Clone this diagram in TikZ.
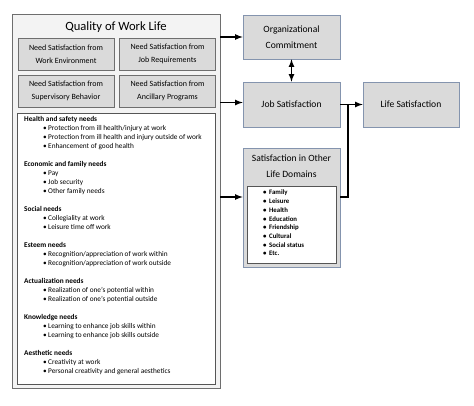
\documentclass[tikz,border=0pt]{standalone}
\usepackage{fontspec}
\setmainfont{Carlito}
\usetikzlibrary{calc}

\definecolor{qwlfill}{RGB}{243,243,243}
\definecolor{boxfill}{RGB}{218,218,218}
\definecolor{boxline}{RGB}{110,110,110}
\definecolor{blueline}{RGB}{132,148,174}
\definecolor{listline}{RGB}{85,85,85}

\newcommand{\needitem}[1]{\hspace*{19pt}\makebox[5pt][l]{\textbullet}#1}
\newcommand{\domitem}[1]{\makebox[6pt][l]{\textbullet}#1}

\tikzset{
  subbox/.style={draw=boxline, fill=boxfill, line width=0.6pt, inner sep=0pt, align=center,
    minimum width=96pt, minimum height=32pt, font=\fontsize{8}{12.5}\selectfont},
  rightbox/.style={draw=blueline, fill=boxfill, line width=0.6pt, inner sep=0pt, align=center,
    minimum width=97pt, minimum height=45pt, font=\fontsize{9.6}{16}\selectfont},
  link/.style={line width=1.6pt, >=latex}
}

\begin{document}
\begin{tikzpicture}[x=1pt,y=-1pt]
  \useasboundingbox (0,0) rectangle (474,405);

  % quality of work life
  \node[draw=boxline, fill=qwlfill, line width=0.7pt, minimum width=208pt, minimum height=374pt] (qwl) at (116,201) {};
  \node[font=\fontsize{12.6}{14}\selectfont] (qwltitle) at (116,27) {Quality of Work Life};

  \node[subbox] (env) at (66,54) {Need Satisfaction from\\Work Environment};
  \node[subbox] (jobreq) at (167.5,54) {Need Satisfaction from\\Job Requirements};
  \node[subbox] (superv) at (66,91) {Need Satisfaction from\\Supervisory Behavior};
  \node[subbox] (ancil) at (167.5,91) {Need Satisfaction from\\Ancillary Programs};

  \node[draw=listline, fill=white, line width=0.7pt, minimum width=198pt, minimum height=271pt] (needbox) at (116,248.5) {};
  \node[anchor=north west, align=left, inner sep=0pt, font=\fontsize{7.3}{9}\selectfont] (needs) at (24,116.5) {%
    \textbf{Health and safety needs}\\
    \needitem{Protection from ill health/injury at work}\\
    \needitem{Protection from ill health and injury outside of work}\\
    \needitem{Enhancement of good health}\\[9pt]
    \textbf{Economic and family needs}\\
    \needitem{Pay}\\
    \needitem{Job security}\\
    \needitem{Other family needs}\\[9pt]
    \textbf{Social needs}\\
    \needitem{Collegiality at work}\\
    \needitem{Leisure time off work}\\[9pt]
    \textbf{Esteem needs}\\
    \needitem{Recognition/appreciation of work within}\\
    \needitem{Recognition/appreciation of work outside}\\[9pt]
    \textbf{Actualization needs}\\
    \needitem{Realization of one's potential within}\\
    \needitem{Realization of one's potential outside}\\[9pt]
    \textbf{Knowledge needs}\\
    \needitem{Learning to enhance job skills within}\\
    \needitem{Learning to enhance job skills outside}\\[9pt]
    \textbf{Aesthetic needs}\\
    \needitem{Creativity at work}\\
    \needitem{Personal creativity and general aesthetics}};

  % outcomes
  \node[rightbox, minimum height=44pt] (org) at (291.5,37) {Organizational\\Commitment};
  \node[rightbox] (jobsat) at (291.5,104.5) {Job Satisfaction};
  \node[rightbox, minimum width=96pt] (life) at (411,104.5) {Life Satisfaction};

  \node[rightbox, minimum height=119pt] (other) at (291.5,207.5) {};
  \node[font=\fontsize{9.6}{16}\selectfont, align=center, inner sep=0pt] (othertitle) at (291.5,166) {Satisfaction in Other\\Life Domains};
  \node[draw=listline, fill=white, line width=0.7pt, minimum width=89pt, minimum height=77pt] (otherlist) at (291.5,224.5) {};
  \node[anchor=north west, align=left, inner sep=0pt, font=\fontsize{6.8}{8.7}\bfseries] (domains) at (263,190) {%
    \domitem{Family}\\ \domitem{Leisure}\\ \domitem{Health}\\ \domitem{Education}\\
    \domitem{Friendship}\\ \domitem{Cultural}\\ \domitem{Social status}\\ \domitem{Etc.}};

  % connectors
  \coordinate (join) at (348,104.5);
  \draw[link,->] (org.west -| qwl.east) -- (org.west);
  \draw[link,->] ([yshift=2pt]jobsat.west -| qwl.east) -- ([yshift=2pt]jobsat.west);
  \draw[link,->] ([yshift=10.5pt]other.west -| qwl.east) -- ([yshift=10.5pt]other.west);
  \draw[link,<->] (org.south) -- (jobsat.north);
  \draw[link,->] (jobsat.east) -- (life.west);
  \draw[link] ([yshift=10.5pt]other.east) -| (join);
\end{tikzpicture}
\end{document}
